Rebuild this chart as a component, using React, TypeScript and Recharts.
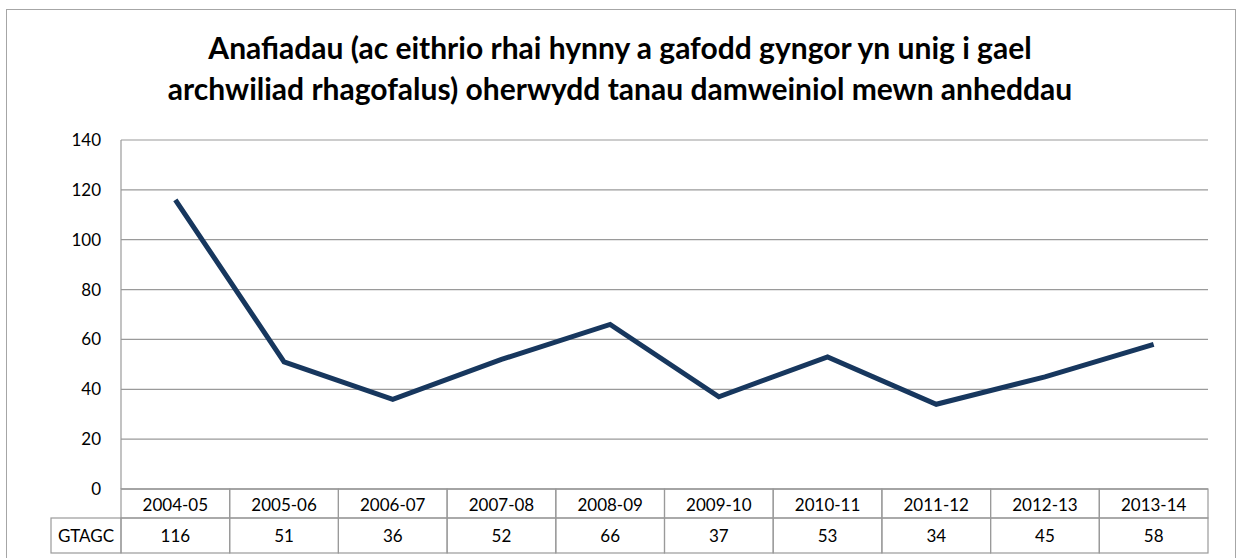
import React from 'react'
import { LineChart, Line, XAxis, YAxis, CartesianGrid } from 'recharts'

const categories = ['2004-05', '2005-06', '2006-07', '2007-08', '2008-09', '2009-10', '2010-11', '2011-12', '2012-13', '2013-14']
const gtagcValues = [116, 51, 36, 52, 66, 37, 53, 34, 45, 58]
const yTicks = [0, 20, 40, 60, 80, 100, 120, 140]
const seriesName = 'GTAGC'

const data = categories.map((year, i) => ({ year, value: gtagcValues[i] }))

const W = 1240
const H = 558
const PLOT_LEFT = 121
const PLOT_RIGHT = 1208
const PLOT_TOP = 140
const PLOT_BOTTOM = 489
const CELL_W = (PLOT_RIGHT - PLOT_LEFT) / categories.length
const ROW1 = 29
const ROW2 = 35
const LABEL_LEFT = 51
const GRID = '#9a9a9a'
const FONT = 'Lato, Carlito, sans-serif'

function TableTick(props: any) {
  const { x, payload, index } = props
  const half = CELL_W / 2
  const top = PLOT_BOTTOM
  return (
    <g>
      <rect x={x - half} y={top} width={CELL_W} height={ROW1} fill="none" stroke={GRID} strokeWidth={1.2} />
      <rect x={x - half} y={top + ROW1} width={CELL_W} height={ROW2} fill="none" stroke={GRID} strokeWidth={1.2} />
      <text x={x} y={top + ROW1 / 2 + 1} textAnchor="middle" dominantBaseline="central" fontSize={17} fill="#000" fontFamily={FONT}>
        {payload.value}
      </text>
      <text x={x} y={top + ROW1 + ROW2 / 2} textAnchor="middle" dominantBaseline="central" fontSize={17} fill="#000" fontFamily={FONT}>
        {gtagcValues[index]}
      </text>
      {index === 0 && (
        <g>
          <rect x={LABEL_LEFT} y={top + ROW1} width={x - half - LABEL_LEFT} height={ROW2} fill="none" stroke={GRID} strokeWidth={1.2} />
          <text x={(LABEL_LEFT + x - half) / 2} y={top + ROW1 + ROW2 / 2} textAnchor="middle" dominantBaseline="central" fontSize={17} fill="#000" fontFamily={FONT}>
            {seriesName}
          </text>
        </g>
      )}
    </g>
  )
}

export default function App() {
  return (
    <div style={{ position: 'absolute', left: 0, top: 0, width: W, height: H, background: '#fff', overflow: 'hidden', fontFamily: FONT }}>
      <div style={{ position: 'absolute', left: 6, top: 9, width: 1228, height: 600, border: '1px solid #a6a6a6' }} />
      <div
        style={{
          position: 'absolute',
          left: 0,
          top: 27,
          width: W,
          textAlign: 'center',
          fontWeight: 700,
          fontSize: 30,
          lineHeight: '41px',
          color: '#000',
        }}
      >
        Anafiadau (ac eithrio rhai hynny a gafodd gyngor yn unig i gael
        <br />
        archwiliad rhagofalus) oherwydd tanau damweiniol mewn anheddau
      </div>
      <div style={{ position: 'absolute', left: 0, top: 0 }}>
        <LineChart
          width={W}
          height={H}
          data={data}
          margin={{ top: PLOT_TOP, right: W - PLOT_RIGHT, bottom: 5, left: 6 }}
        >
          <CartesianGrid vertical={false} stroke={GRID} strokeWidth={1.2} />
          <XAxis
            dataKey="year"
            height={H - 5 - PLOT_BOTTOM}
            interval={0}
            tickLine={false}
            axisLine={{ stroke: GRID }}
            padding={{ left: CELL_W / 2, right: CELL_W / 2 }}
            tick={<TableTick />}
          />
          <YAxis
            width={PLOT_LEFT - 6}
            domain={[0, 140]}
            ticks={yTicks}
            interval={0}
            tickLine={false}
            tickSize={0}
            tickMargin={20}
            axisLine={{ stroke: GRID, strokeWidth: 1.2 }}
            tick={{ fill: '#000', fontSize: 17, fontFamily: FONT }}
          />
          <Line
            type="linear"
            dataKey="value"
            stroke="#17375e"
            strokeWidth={5}
            dot={false}
            activeDot={false}
            isAnimationActive={false}
          />
        </LineChart>
      </div>
    </div>
  )
}
